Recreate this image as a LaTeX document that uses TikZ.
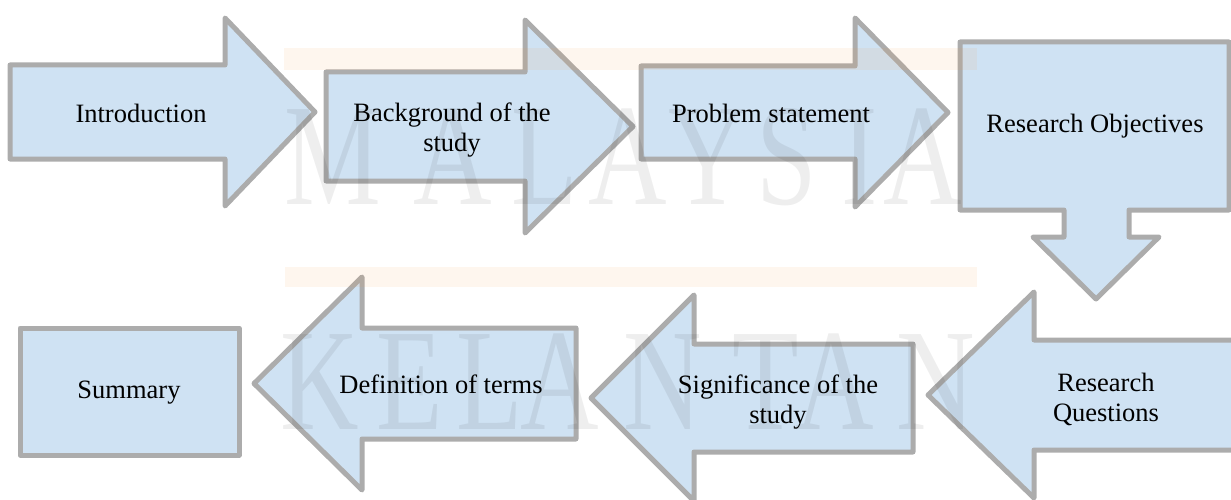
\documentclass[tikz,border=0pt]{standalone}
\usepackage{fontspec}
\setmainfont{Liberation Serif}
\newfontfamily\wmfont[FakeStretch=0.75]{Liberation Serif}

\definecolor{boxblue}{RGB}{207,226,243}
\definecolor{boxgray}{RGB}{172,172,172}
\definecolor{barorange}{RGB}{247,150,70}

\tikzset{
  flowshape/.style={draw=boxgray, line width=5pt, fill=boxblue, line join=round},
  flowtext/.style={font=\fontsize{26.5}{30}\selectfont, align=center, inner sep=0pt},
  wmletter/.style={font=\wmfont\fontsize{145}{145}\selectfont, text=black,
    text opacity=0.065, anchor=base, inner sep=0pt},
  wmbar/.style={fill=barorange, fill opacity=0.09, draw=none}
}

\begin{document}
\begin{tikzpicture}[x=1pt,y=-1pt]
\useasboundingbox (0,0) rectangle (1231,500);
% top row, pointing right
\draw[flowshape] (10,65) -- (225,65) -- (225,18) -- (315,112) -- (225,206) -- (225,159) -- (10,159) -- cycle;
\draw[flowshape] (326,72) -- (525,72) -- (525,20) -- (633,126.5) -- (525,233) -- (525,181) -- (326,181) -- cycle;
\draw[flowshape] (641,66) -- (855,66) -- (855,18) -- (948,112.5) -- (855,207) -- (855,159) -- (641,159) -- cycle;
% box with arrow down
\draw[flowshape] (960,42) -- (1229,42) -- (1229,210) -- (1129,210) -- (1129,237) -- (1159,237)
  -- (1096,299) -- (1033,237) -- (1064,237) -- (1064,210) -- (960,210) -- cycle;
% bottom row, pointing left
\draw[flowshape] (1240,340) -- (1034,340) -- (1034,292) -- (928,395) -- (1034,498) -- (1034,450) -- (1240,450) -- cycle;
\draw[flowshape] (913,344) -- (694,344) -- (694,295) -- (591,398) -- (694,501) -- (694,452) -- (913,452) -- cycle;
\draw[flowshape] (576,328) -- (362,328) -- (362,277) -- (254,383.5) -- (362,490) -- (362,439) -- (576,439) -- cycle;
\draw[flowshape] (20,328) rectangle (239,455);

\node[flowtext] (intro) at (141,113) {Introduction};
\node[flowtext] (backgr) at (452,130) {Background of the\\study};
\node[flowtext] (problem) at (771,113) {Problem statement};
\node[flowtext] (objectives) at (1095,126) {Research Objectives};
\node[flowtext] (questions) at (1106,399) {Research\\Questions};
\node[flowtext] (signif) at (778,402) {Significance of the\\study};
\node[flowtext] (defin) at (441,384) {Definition of terms};
\node[flowtext] (summary) at (129,393) {Summary};

% watermark
\fill[wmbar] (284,48) rectangle (977,70);
\fill[wmbar] (285,267) rectangle (977,287);
\foreach \ch/\xx in {M/333, A/453, L/545, A/628, Y/708, S/787, I/860, A/923}
  \node[wmletter] (wm-top-\xx) at (\xx,204) {\ch};
\foreach \ch/\xx in {K/320, E/410, L/490, A/560, N/663, T/766, A/835, N/936}
  \node[wmletter] (wm-bot-\xx) at (\xx,429) {\ch};
\end{tikzpicture}
\end{document}
